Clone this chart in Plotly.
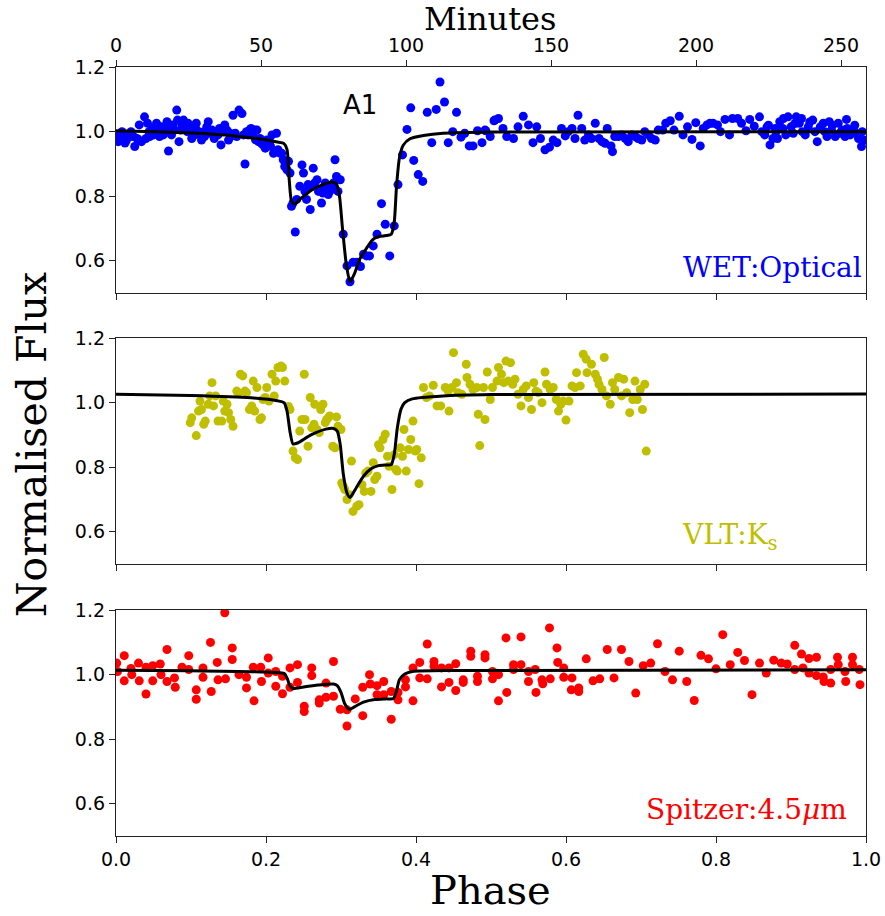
import plotly.graph_objects as go

# ---------------- WET : Optical (top panel) ----------------
wet_phase = [0.000, 0.001, 0.003, 0.005, 0.008, 0.010, 0.012, 0.014, 0.016, 0.018, 0.020, 0.023, 0.025, 0.028, 0.030,
             0.031, 0.034, 0.038, 0.040, 0.042, 0.044, 0.045, 0.048, 0.050, 0.054, 0.056, 0.058, 0.061, 0.063, 0.066,
             0.068, 0.070, 0.071, 0.074, 0.076, 0.078, 0.081, 0.082, 0.084, 0.086, 0.088, 0.090, 0.093, 0.095, 0.096,
             0.099, 0.101, 0.103, 0.105, 0.107, 0.108, 0.112, 0.114, 0.117, 0.118, 0.121, 0.123, 0.125, 0.128, 0.130,
             0.131, 0.133, 0.136, 0.138, 0.140, 0.143, 0.145, 0.148, 0.150, 0.152, 0.153, 0.156, 0.159, 0.161, 0.164,
             0.168, 0.170, 0.172, 0.174, 0.176, 0.178, 0.180, 0.183, 0.185, 0.186, 0.188, 0.190, 0.192, 0.194, 0.196,
             0.198, 0.199, 0.201, 0.203, 0.205, 0.206, 0.208, 0.210, 0.212, 0.214, 0.216, 0.219, 0.221,
             0.223, 0.225, 0.228, 0.230, 0.232, 0.234, 0.236, 0.239, 0.241, 0.245, 0.248, 0.250, 0.252, 0.254, 0.256,
             0.259, 0.261, 0.263, 0.265, 0.268, 0.270, 0.272, 0.274, 0.276, 0.279, 0.281, 0.283, 0.285, 0.288, 0.290,
             0.292, 0.294, 0.296, 0.299, 0.303, 0.308, 0.312, 0.316, 0.321, 0.326, 0.330, 0.334, 0.338, 0.343, 0.348,
             0.354, 0.359, 0.365, 0.371, 0.376, 0.382, 0.388, 0.393, 0.397, 0.403, 0.409, 0.415, 0.421, 0.427, 0.432,
             0.438, 0.443, 0.449, 0.454, 0.460, 0.465, 0.471, 0.476, 0.482, 0.488, 0.493, 0.499, 0.504, 0.510,
             0.492, 0.505, 0.516, 0.521, 0.530, 0.536, 0.543, 0.550, 0.556, 0.561, 0.566, 0.572, 0.578, 0.583, 0.588,
             0.594, 0.599, 0.603, 0.608, 0.612, 0.616, 0.621, 0.625, 0.630, 0.634, 0.639, 0.644, 0.648, 0.652, 0.655,
             0.660, 0.662, 0.665, 0.670, 0.674, 0.679, 0.683, 0.688, 0.692, 0.696, 0.701, 0.705, 0.710, 0.714, 0.719,
             0.723, 0.729, 0.733, 0.739, 0.744, 0.751, 0.756, 0.762, 0.768, 0.773, 0.779, 0.783, 0.788, 0.792, 0.796,
             0.802, 0.806, 0.812, 0.818, 0.822, 0.829, 0.834, 0.840, 0.845, 0.851, 0.858, 0.861, 0.865, 0.868, 0.870,
             0.872, 0.876, 0.879, 0.880, 0.882, 0.885, 0.889, 0.890, 0.893, 0.896, 0.900, 0.903, 0.905, 0.907, 0.911,
             0.914, 0.915, 0.919, 0.923, 0.925, 0.929, 0.932, 0.935, 0.939, 0.943, 0.945, 0.948, 0.951, 0.954, 0.955,
             0.959, 0.963, 0.965, 0.968, 0.972, 0.974, 0.975, 0.979, 0.983, 0.985, 0.987, 0.990, 0.994, 0.995, 0.998]
wet_flux = [0.975, 0.985, 0.969, 0.990, 1.000, 0.979, 0.965, 0.974, 0.990, 0.985, 1.000, 0.985, 0.954, 0.979, 0.975,
            1.021, 0.969, 1.046, 0.979, 1.026, 1.000, 0.985, 1.010, 0.990, 1.026, 1.005, 0.985, 1.015, 0.990, 1.005,
            1.031, 0.940, 1.015, 0.990, 1.021, 1.005, 1.067, 1.036, 0.969, 1.005, 1.020, 1.036, 1.010, 1.000, 1.026,
            1.000, 0.979, 1.015, 0.990, 1.026, 1.005, 0.990, 0.974, 1.000, 0.985, 1.015, 1.031, 0.995, 1.005, 0.995,
            0.979, 1.000, 0.990, 1.010, 0.959, 1.000, 1.021, 1.005, 0.974, 0.995, 0.985, 1.051, 0.995, 0.985, 1.067,
            1.056, 0.990, 0.900, 1.000, 0.990, 1.005, 1.010, 0.995, 1.005, 0.975, 1.005, 0.969, 0.979, 0.964, 0.959,
            0.965, 0.949, 0.974, 0.959, 0.969, 0.955, 0.990, 0.933, 0.938, 0.995, 0.944, 0.933, 0.933,
            0.913, 0.892, 0.882, 0.908, 0.872, 0.769, 0.779, 0.689, 0.790, 0.831, 0.897, 0.872, 0.815, 0.790, 0.836,
            0.759, 0.831, 0.887, 0.841, 0.851, 0.815, 0.820, 0.779, 0.810, 0.841, 0.831, 0.805, 0.815, 0.826, 0.841,
            0.913, 0.861, 0.815, 0.851, 0.682, 0.584, 0.535, 0.595, 0.595, 0.582, 0.620, 0.615, 0.615, 0.646, 0.682,
            0.777, 0.713, 0.615, 0.708, 0.836, 0.928, 1.007, 1.074, 0.911, 0.867, 0.846, 1.060, 0.966, 1.069, 1.154,
            1.092, 0.966, 1.000, 1.060, 0.983, 0.995, 0.956, 0.956, 1.003, 0.966, 1.003, 0.985, 1.034, 1.041,
            1.005, 1.036, 1.010, 0.985, 0.979, 1.015, 1.048, 1.021, 0.966, 1.015, 0.979, 0.944, 0.952, 0.974, 0.966,
            1.010, 0.987, 1.000, 1.010, 0.979, 1.051, 1.010, 0.974, 0.990, 0.979, 1.026, 0.979, 0.969, 0.964, 1.010,
            0.956, 0.938, 0.985, 0.985, 0.990, 0.979, 0.969, 0.990, 0.985, 0.979, 0.974, 1.000, 0.990, 0.979, 0.974,
            1.005, 1.005, 1.026, 1.034, 1.005, 1.048, 0.990, 1.015, 0.976, 1.028, 0.956, 1.010, 1.021, 1.026, 1.026,
            1.021, 1.000, 1.038, 0.990, 1.041, 1.041, 1.026, 1.003, 1.038, 1.017, 1.046, 1.000, 0.990, 1.015, 1.020,
            0.959, 0.979, 1.010, 1.000, 0.979, 1.031, 1.010, 1.041, 0.990, 1.046, 1.015, 0.995, 1.025, 1.046, 1.026,
            1.041, 1.000, 0.990, 1.015, 1.030, 1.036, 1.000, 0.969, 1.015, 1.026, 1.000, 0.985, 1.031, 1.005, 1.020,
            0.985, 1.026, 0.995, 1.005, 0.985, 1.038, 1.010, 0.990, 1.005, 1.020, 0.995, 0.979, 0.954, 1.000, 0.974]

wet_model_phase = [0.0, 0.05, 0.10, 0.15, 0.19, 0.215, 0.224, 0.228, 0.231, 0.234, 0.238, 0.245, 0.26, 0.275, 0.288,
                   0.294, 0.298, 0.302, 0.307, 0.312, 0.318, 0.325, 0.333, 0.342, 0.35, 0.36, 0.367, 0.371, 0.374,
                   0.378, 0.383, 0.392, 0.41, 0.436, 0.5, 1.0]
wet_model_flux = [1.003, 1.0, 0.996, 0.989, 0.978, 0.968, 0.963, 0.945, 0.85, 0.785, 0.775, 0.79, 0.818, 0.835, 0.843,
                  0.838, 0.80, 0.70, 0.59, 0.535, 0.56, 0.605, 0.635, 0.665, 0.675, 0.678, 0.682, 0.72, 0.83,
                  0.92, 0.958, 0.978, 0.988, 0.995, 0.999, 1.0]

# ---------------- VLT : Ks (middle panel) ----------------
vlt_phase = [0.099, 0.101, 0.107, 0.110, 0.112, 0.114, 0.119, 0.117, 0.123, 0.125, 0.128, 0.130, 0.133, 0.136, 0.141,
             0.143, 0.145, 0.148, 0.150, 0.153, 0.156, 0.161, 0.163, 0.166, 0.169, 0.172, 0.174, 0.178, 0.181, 0.183,
             0.185, 0.188, 0.192, 0.194, 0.196, 0.199, 0.201, 0.204, 0.208, 0.211, 0.213, 0.216, 0.220, 0.222, 0.225,
             0.230, 0.232, 0.236, 0.239, 0.242, 0.245, 0.248, 0.251, 0.252, 0.256, 0.259, 0.261, 0.264, 0.265, 0.268,
             0.271, 0.273, 0.276, 0.279, 0.281, 0.283, 0.285, 0.289, 0.292, 0.294, 0.296, 0.300, 0.301, 0.303, 0.305,
             0.308, 0.311, 0.314, 0.316, 0.321, 0.324, 0.328, 0.331, 0.333, 0.336, 0.340, 0.343, 0.345, 0.348, 0.350,
             0.352, 0.356, 0.359, 0.362, 0.364, 0.368, 0.371, 0.373, 0.375, 0.379, 0.382, 0.384, 0.387, 0.390, 0.393,
             0.396, 0.399, 0.401, 0.404, 0.407, 0.410, 0.414, 0.418, 0.423, 0.428, 0.433, 0.439, 0.443, 0.444, 0.448,
             0.450, 0.454, 0.456, 0.461, 0.467, 0.468, 0.472, 0.476, 0.481, 0.483, 0.485, 0.490, 0.492, 0.495, 0.499,
             0.502, 0.508, 0.510, 0.514, 0.517, 0.520, 0.523, 0.526, 0.529, 0.532, 0.536, 0.540, 0.543, 0.547, 0.550,
             0.554, 0.557, 0.560, 0.563, 0.568, 0.572, 0.574, 0.579, 0.583, 0.587, 0.590, 0.593, 0.596, 0.600, 0.604,
             0.608, 0.612, 0.614, 0.619, 0.623, 0.627, 0.628, 0.634, 0.639, 0.642, 0.644, 0.648, 0.651, 0.654, 0.659,
             0.662, 0.665, 0.670, 0.674, 0.677, 0.681, 0.685, 0.689, 0.692, 0.695, 0.699, 0.702, 0.705, 0.707]
vlt_flux = [0.938, 0.953, 0.898, 0.974, 1.005, 0.979, 0.943, 0.933, 0.995, 1.021, 1.062, 0.990, 1.021, 0.943, 0.943,
            1.005, 0.974, 0.995, 0.969, 0.948, 0.927, 1.036, 1.031, 1.088, 1.083, 1.036, 1.031, 0.979, 0.990, 1.067,
            0.974, 1.047, 0.948, 0.953, 1.010, 1.016, 1.047, 1.005, 1.088, 1.021, 1.067, 1.109, 1.114, 1.109, 1.067,
            0.988, 0.979, 0.850, 0.829, 0.824, 0.912, 0.948, 1.088, 0.948, 0.865, 1.016, 0.922, 0.933, 0.995, 0.917,
            0.907, 0.979, 0.995, 0.938, 0.948, 0.953, 0.959, 0.865, 0.860, 0.956, 0.927, 0.917, 0.751, 0.741, 0.731,
            0.700, 0.715, 0.819, 0.663, 0.679, 0.684, 0.746, 0.725, 0.782, 0.788, 0.725, 0.814, 0.762, 0.772, 0.870,
            0.860, 0.886, 0.902, 0.834, 0.803, 0.731, 0.839, 0.793, 0.788, 0.860, 0.834, 0.917, 0.788, 0.855, 0.886,
            0.943, 0.850, 0.855, 0.749, 0.829, 1.047, 1.016, 1.021, 1.054, 0.990, 0.990, 1.047, 1.036, 0.974, 1.047,
            1.155, 1.062, 1.031, 1.026, 1.119, 1.078, 1.057, 1.041, 1.047, 0.964, 0.867, 1.047, 0.948, 1.095, 1.010,
            1.047, 1.067, 1.109, 1.088, 1.062, 1.129, 1.067, 1.124, 1.057, 1.073, 1.026, 0.990, 1.041, 1.052, 1.016,
            0.979, 1.062, 1.036, 1.031, 1.000, 1.095, 1.057, 1.041, 1.047, 1.010, 0.974, 0.995, 1.005, 0.946, 1.005,
            1.052, 1.047, 1.093, 1.052, 1.150, 1.135, 1.093, 1.119, 1.088, 1.073, 1.057, 1.041, 1.140, 1.021, 0.995,
            1.062, 1.041, 1.078, 1.021, 1.073, 1.031, 0.969, 1.010, 1.067, 1.010, 1.041, 0.979, 1.057, 0.850]

vlt_model_phase = [0.0, 0.1, 0.18, 0.215, 0.224, 0.228, 0.232, 0.236, 0.242, 0.26, 0.28, 0.29, 0.295, 0.299, 0.303,
                   0.308, 0.312, 0.32, 0.33, 0.34, 0.35, 0.36, 0.367, 0.371, 0.375, 0.38, 0.385, 0.395, 0.436, 0.5, 1.0]
vlt_model_flux = [1.026, 1.022, 1.015, 1.006, 1.0, 0.975, 0.91, 0.872, 0.875, 0.9, 0.918, 0.92, 0.912, 0.87, 0.78,
                  0.72, 0.706, 0.735, 0.772, 0.795, 0.805, 0.807, 0.808, 0.84, 0.92, 0.98, 1.0, 1.012, 1.021, 1.025, 1.027]

# ---------------- Spitzer : 4.5um (bottom panel) ----------------
spz_phase = [0.001, 0.002, 0.011, 0.011, 0.020, 0.021, 0.030, 0.031, 0.040, 0.040, 0.049, 0.049, 0.059, 0.060, 0.068,
             0.068, 0.078, 0.079, 0.088, 0.097, 0.097, 0.107, 0.107, 0.116, 0.116, 0.126, 0.127, 0.135, 0.136, 0.145,
             0.146, 0.155, 0.155, 0.164, 0.174, 0.174, 0.183, 0.184, 0.193, 0.194, 0.203, 0.203, 0.213, 0.213, 0.222,
             0.222, 0.232, 0.232, 0.242, 0.242, 0.251, 0.251, 0.261, 0.261, 0.271, 0.271, 0.280, 0.280, 0.290, 0.290,
             0.299, 0.308, 0.308, 0.319, 0.329, 0.329, 0.338, 0.339, 0.348, 0.348, 0.357, 0.357, 0.367, 0.367, 0.376,
             0.376, 0.386, 0.386, 0.396, 0.396, 0.405, 0.405, 0.415, 0.415, 0.424, 0.424, 0.434, 0.434, 0.444, 0.444,
             0.453, 0.453, 0.463, 0.463, 0.473, 0.473, 0.482, 0.482, 0.492, 0.492, 0.502, 0.502, 0.510, 0.510,
             0.520, 0.521, 0.530, 0.530, 0.540, 0.540, 0.550, 0.550, 0.559, 0.560, 0.568, 0.569, 0.578, 0.579, 0.588,
             0.589, 0.597, 0.597, 0.607, 0.608, 0.617, 0.617, 0.627, 0.636, 0.645, 0.655, 0.664, 0.674, 0.684, 0.693,
             0.703, 0.713, 0.722, 0.732, 0.742, 0.751, 0.761, 0.771, 0.780, 0.790, 0.800, 0.809, 0.819, 0.829, 0.838,
             0.848, 0.858, 0.867, 0.877, 0.887, 0.895, 0.905, 0.905, 0.914, 0.916, 0.924, 0.924, 0.934, 0.934, 0.943,
             0.944, 0.953, 0.953, 0.962, 0.963, 0.972, 0.973, 0.982, 0.982, 0.991, 0.992]
spz_flux = [1.036, 1.010, 1.059, 0.981, 1.019, 1.000, 1.036, 0.981, 1.023, 0.940, 1.028, 0.981, 1.033, 1.000, 1.078,
            0.979, 0.990, 0.961, 1.023, 1.059, 1.016, 0.953, 0.924, 1.021, 0.992, 1.100, 0.948, 1.038, 0.984, 1.192,
            0.987, 1.083, 1.047, 1.000, 0.992, 0.959, 1.023, 0.919, 1.023, 0.979, 1.052, 1.005, 1.010, 0.964, 0.995,
            0.941, 1.021, 0.961, 1.031, 0.976, 0.902, 0.886, 1.021, 0.997, 0.922, 0.912, 0.974, 0.930, 1.041, 0.933,
            0.893, 0.891, 0.841, 0.925, 0.961, 0.873, 1.000, 0.971, 0.966, 0.938, 0.979, 0.938, 0.948, 0.862, 0.945,
            0.922, 0.984, 0.962, 1.021, 0.919, 1.038, 0.990, 1.095, 0.987, 1.041, 1.026, 1.021, 0.962, 1.021, 0.976,
            1.034, 0.951, 0.984, 0.976, 1.073, 1.057, 0.995, 0.979, 1.062, 1.052, 1.010, 0.987, 1.000, 0.919,
            1.114, 0.945, 1.031, 1.016, 1.117, 1.031, 1.010, 0.979, 1.016, 0.945, 0.984, 0.972, 1.145, 0.987, 1.083,
            1.038, 1.021, 0.992, 0.953, 0.990, 0.959, 0.948, 1.049, 0.981, 0.987, 1.078, 0.990, 1.078, 1.041, 0.943,
            1.028, 1.036, 1.096, 1.010, 0.984, 1.073, 0.979, 0.920, 1.060, 1.049, 1.018, 1.124, 1.031, 1.069, 1.044,
            0.938, 1.036, 1.005, 1.045, 1.036, 1.033, 1.091, 1.016, 1.064, 1.021, 1.050, 1.005, 1.054, 0.997, 0.993,
            0.979, 1.016, 0.974, 1.054, 1.031, 1.010, 0.979, 1.054, 1.031, 1.016, 0.969]

spz_model_phase = [0.0, 0.1, 0.2, 0.224, 0.228, 0.232, 0.236, 0.25, 0.27, 0.29, 0.295, 0.3, 0.305, 0.311, 0.32, 0.33,
                   0.345, 0.36, 0.37, 0.374, 0.378, 0.385, 0.395, 0.45, 1.0]
spz_model_flux = [1.014, 1.012, 1.008, 1.004, 0.99, 0.965, 0.957, 0.962, 0.968, 0.971, 0.966, 0.945, 0.91, 0.893, 0.903,
                  0.915, 0.923, 0.925, 0.926, 0.95, 0.985, 1.002, 1.01, 1.013, 1.015]

# ---------------- axis / label text ----------------
phase_ticks = [0.0, 0.2, 0.4, 0.6, 0.8, 1.0]
flux_ticks = [0.6, 0.8, 1.0, 1.2]
minute_ticks = [0, 50, 100, 150, 200, 250]
minutes_per_cycle = 258.6

BLUE = "#0000FF"
OLIVE = "#BFBF00"
RED = "#FF0000"

TICK_FONT = dict(family="DejaVu Sans", size=19, color="black")
SERIF = "DejaVu Serif"

fig = go.Figure()

panels = [
    ("x", "y", wet_phase, wet_flux, wet_model_phase, wet_model_flux, BLUE),
    ("x2", "y2", vlt_phase, vlt_flux, vlt_model_phase, vlt_model_flux, OLIVE),
    ("x3", "y3", spz_phase, spz_flux, spz_model_phase, spz_model_flux, RED),
]
for xa, ya, px, py, mx, my, col in panels:
    fig.add_trace(go.Scatter(x=px, y=py, xaxis=xa, yaxis=ya, mode="markers",
                             marker=dict(color=col, size=9, line=dict(width=0)),
                             showlegend=False, hoverinfo="skip"))
    fig.add_trace(go.Scatter(x=mx, y=my, xaxis=xa, yaxis=ya, mode="lines",
                             line=dict(color="black", width=3, shape="spline", smoothing=0.6),
                             showlegend=False, hoverinfo="skip"))

# invisible copy of the optical model on the minutes axis so that the top axis is drawn
fig.add_trace(go.Scatter(x=[p * minutes_per_cycle for p in wet_model_phase], y=wet_model_flux,
                         xaxis="x4", yaxis="y", mode="lines", opacity=0,
                         line=dict(color="rgba(0,0,0,0)"), showlegend=False, hoverinfo="skip"))

axis_common = dict(showgrid=False, zeroline=False, showline=True, linecolor="#222222", linewidth=1.3,
                   mirror=True, ticks="outside", ticklen=6, tickwidth=1.2, tickcolor="#222222",
                   tickfont=TICK_FONT, automargin=False)

domains = [[0.7061, 1.0], [0.3537, 0.6476], [0.0, 0.2939]]
layout = dict(
    width=885, height=916,
    margin=dict(l=116, r=19, t=67, b=80, autoexpand=False),
    plot_bgcolor="white", paper_bgcolor="white",
)
for i, (xa, ya) in enumerate([("x", "y"), ("x2", "y2"), ("x3", "y3")]):
    xname = "xaxis" if i == 0 else f"xaxis{i+1}"
    yname = "yaxis" if i == 0 else f"yaxis{i+1}"
    layout[xname] = dict(axis_common, anchor=ya, range=[0, 1], tickvals=phase_ticks,
                         ticktext=[f"{v:.1f}" for v in phase_ticks], showticklabels=(i == 2))
    layout[yname] = dict(axis_common, anchor=xa, domain=domains[i], range=[0.5, 1.2005],
                         tickvals=flux_ticks, ticktext=[f"{v:.1f}" for v in flux_ticks])

layout["xaxis4"] = dict(axis_common, overlaying="x", side="top", anchor="y", mirror=False,
                        range=[0, minutes_per_cycle], tickvals=minute_ticks,
                        ticktext=[str(v) for v in minute_ticks])
fig.update_layout(**layout)

annotations = [
    dict(text="A1", x=0.325, y=1.082, xref="x", yref="y", showarrow=False,
         font=dict(family="DejaVu Sans", size=26, color="black")),
    dict(text="WET:Optical", x=0.997, y=0.578, xref="x", yref="y", xanchor="right", yanchor="middle",
         showarrow=False, font=dict(family=SERIF, size=28, color=BLUE)),
    dict(text="VLT:K<sub>s</sub>", x=0.885, y=0.585, xref="x2", yref="y2", xanchor="right", yanchor="middle",
         showarrow=False, font=dict(family=SERIF, size=28, color=OLIVE)),
    dict(text="Spitzer:4.5<i>μ</i>m", x=0.977, y=0.583, xref="x3", yref="y3", xanchor="right", yanchor="middle",
         showarrow=False, font=dict(family=SERIF, size=28, color=RED)),
    dict(text="Phase", x=0.499, y=-0.0702, xref="paper", yref="paper", xanchor="center", yanchor="middle",
         showarrow=False, font=dict(family=SERIF, size=40, color="black")),
    dict(text="Minutes", x=0.499, y=1.0625, xref="paper", yref="paper", xanchor="center", yanchor="middle",
         showarrow=False, font=dict(family=SERIF, size=32, color="black")),
    dict(text="Normalised Flux", x=-0.112, y=0.508, xref="paper", yref="paper", xanchor="center",
         yanchor="middle", textangle=-90, showarrow=False,
         font=dict(family=SERIF, size=41, color="black")),
]
fig.update_layout(annotations=annotations)

fig.write_html("out.html", config={"displayModeBar": False},
               post_script="document.body.style.margin='0';")
